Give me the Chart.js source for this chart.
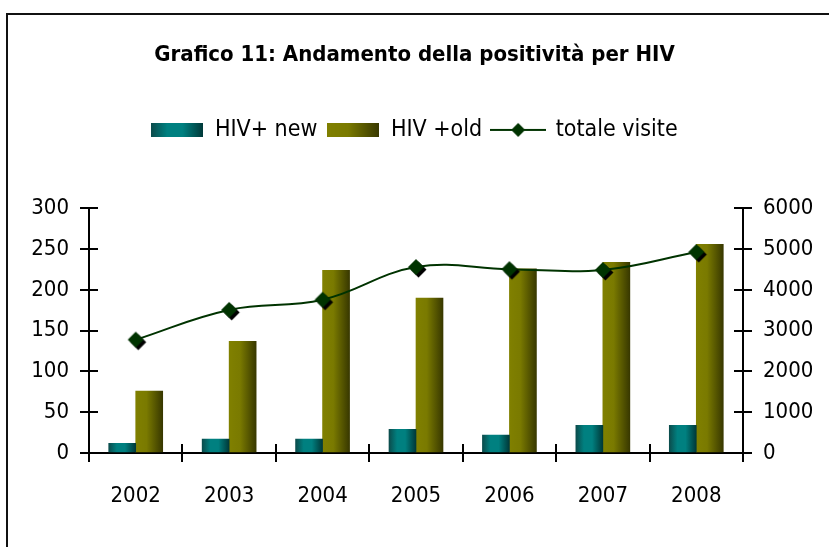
<!DOCTYPE html>
<html>
<head>
<meta charset="utf-8">
<script src="https://cdn.jsdelivr.net/npm/chart.js@4.4.1/dist/chart.umd.min.js"></script>
<style>
  html, body { margin: 0; padding: 0; background: #fff; overflow: hidden; }
  #frame { position: absolute; left: 6px; top: 13px; width: 1000px; height: 1000px; border: 2px solid #111; }
  #chart { position: absolute; left: 0; top: 0; }
</style>
</head>
<body>
<div id="frame"></div>
<canvas id="chart" width="829" height="547"></canvas>
<script>
// data
const years = ["2002", "2003", "2004", "2005", "2006", "2007", "2008"];
const hivNew = [12, 17, 17, 29, 22, 34, 34];
const hivOld = [76, 137, 224, 190, 226, 234, 256];
const totaleVisite = [2780, 3510, 3760, 4560, 4510, 4490, 4930];
const leftMax = 300, leftStep = 50;
const rightMax = 6000, rightStep = 1000;

const FONT = "'DejaVu Sans Condensed', 'Liberation Sans', sans-serif";
const BAR_W = 27;
const TICK = 9;
const GAP = 57; // empty band between legend and plot
const SWATCH_W = 52;

const tealStops = [[0, "#0b4c4c"], [0.3, "#008080"], [0.6, "#008080"], [1, "#003838"]];
const oliveStops = [[0, "#808000"], [0.4, "#7a7a00"], [1, "#383800"]];

function barFill(stops, slot) {
  return function (ctx) {
    const x = ctx.chart.scales.x;
    if (!x || ctx.type !== "data") return stops[1][1];
    const left = x.getPixelForValue(ctx.dataIndex) - BAR_W + slot * BAR_W;
    const g = ctx.chart.ctx.createLinearGradient(left, 0, left + BAR_W, 0);
    stops.forEach(function (s) { g.addColorStop(s[0], s[1]); });
    return g;
  };
}

function swatch(stops) {
  const c = document.createElement("canvas");
  c.width = SWATCH_W; c.height = 14;
  const cx = c.getContext("2d");
  const g = cx.createLinearGradient(0, 0, SWATCH_W, 0);
  stops.forEach(function (s) { g.addColorStop(s[0], s[1]); });
  cx.fillStyle = g;
  cx.fillRect(0, 0, SWATCH_W, 14);
  return c;
}

function diamond(cx, x, y, r, color) {
  cx.fillStyle = color;
  cx.beginPath();
  cx.moveTo(x, y - r); cx.lineTo(x + r, y); cx.lineTo(x, y + r); cx.lineTo(x - r, y);
  cx.closePath();
  cx.fill();
}

// marker with the little black shadow
const marker = document.createElement("canvas");
marker.width = 24; marker.height = 24;
(function () {
  const cx = marker.getContext("2d");
  diamond(cx, 14.5, 14.5, 8, "#000");
  diamond(cx, 12, 12, 8, "#003300");
})();

const lineIcon = document.createElement("canvas");
lineIcon.width = 56; lineIcon.height = 16;
(function () {
  const cx = lineIcon.getContext("2d");
  cx.strokeStyle = "#003300";
  cx.lineWidth = 2;
  cx.beginPath(); cx.moveTo(0, 8); cx.lineTo(56, 8); cx.stroke();
  diamond(cx, 28, 8, 7, "#003300");
})();

const legendIcons = [swatch(tealStops), swatch(oliveStops), lineIcon];

const spacer = {
  id: "spacer",
  beforeInit(chart) {
    Chart.layouts.addBox(chart, {
      position: "top", weight: 0, fullSize: true, options: {},
      width: 0, height: 0, top: 0, left: 0, bottom: 0, right: 0,
      isHorizontal() { return true; },
      update(maxWidth) { this.width = maxWidth; this.height = GAP; },
      draw() {}
    });
  }
};

const innerTicks = {
  id: "innerTicks",
  afterDatasetsDraw(chart) {
    const ctx = chart.ctx, a = chart.chartArea, s = chart.scales;
    ctx.save();
    ctx.strokeStyle = "#000";
    ctx.lineWidth = 2;
    ctx.beginPath();
    s.y.ticks.forEach(function (t, i) {
      const p = Math.round(s.y.getPixelForTick(i));
      ctx.moveTo(a.left, p); ctx.lineTo(a.left + TICK, p);
    });
    s.y1.ticks.forEach(function (t, i) {
      const p = Math.round(s.y1.getPixelForTick(i));
      ctx.moveTo(a.right, p); ctx.lineTo(a.right - TICK, p);
    });
    const step = s.x.getPixelForValue(1) - s.x.getPixelForValue(0);
    for (let i = 0; i <= years.length; i++) {
      const p = Math.round(s.x.getPixelForValue(0) + (i - 0.5) * step);
      ctx.moveTo(p, a.bottom); ctx.lineTo(p, a.bottom - TICK);
    }
    ctx.stroke();
    ctx.restore();
  }
};

Chart.defaults.font.family = FONT;
Chart.defaults.color = "#000";

new Chart(document.getElementById("chart"), {
  type: "bar",
  data: {
    labels: years,
    datasets: [
      {
        label: "HIV+ new",
        data: hivNew,
        backgroundColor: barFill(tealStops, 0),
        barThickness: BAR_W,
        yAxisID: "y"
      },
      {
        label: "HIV +old",
        data: hivOld,
        backgroundColor: barFill(oliveStops, 1),
        barThickness: BAR_W,
        yAxisID: "y"
      },
      {
        type: "line",
        label: "totale visite",
        data: totaleVisite,
        borderColor: "#003300",
        borderWidth: 2,
        tension: 0.4,
        pointStyle: marker,
        pointRadius: 8,
        order: -1,
        yAxisID: "y1"
      }
    ]
  },
  options: {
    responsive: false,
    animation: false,
    layout: { padding: 0 },
    plugins: {
      tooltip: { enabled: false },
      title: {
        display: true,
        text: "Grafico 11: Andamento della positività per HIV",
        font: { size: 22, weight: "bold" },
        color: "#000",
        padding: { top: 42, bottom: 40 }
      },
      legend: {
        display: true,
        labels: {
          usePointStyle: true,
          pointStyleWidth: SWATCH_W,
          boxHeight: 14,
          padding: 10,
          font: { size: 23 },
          color: "#000",
          generateLabels: function (chart) {
            return chart.data.datasets.map(function (ds, i) {
              return {
                text: ds.label,
                pointStyle: legendIcons[i],
                fillStyle: "#000",
                strokeStyle: "#000",
                lineWidth: 0,
                hidden: false,
                datasetIndex: i,
                fontColor: "#000"
              };
            });
          }
        }
      }
    },
    scales: {
      x: {
        grid: { display: true, drawOnChartArea: false, drawTicks: true, tickLength: TICK, color: "#000", lineWidth: 2, offset: true },
        border: { display: true, color: "#000", width: 2 },
        ticks: { font: { size: 22 }, padding: 21, maxRotation: 0 },
        afterFit: function (scale) { scale.height = 94; }
      },
      y: {
        position: "left",
        min: 0,
        max: leftMax,
        grid: { display: true, drawOnChartArea: false, drawTicks: true, tickLength: TICK, color: "#000", lineWidth: 2 },
        border: { display: true, color: "#000", width: 2 },
        ticks: { stepSize: leftStep, font: { size: 22 }, padding: 11 },
        afterFit: function (scale) { scale.width = 89; }
      },
      y1: {
        position: "right",
        min: 0,
        max: rightMax,
        grid: { display: true, drawOnChartArea: false, drawTicks: true, tickLength: TICK, color: "#000", lineWidth: 2 },
        border: { display: true, color: "#000", width: 2 },
        ticks: {
          stepSize: rightStep,
          font: { size: 22 },
          padding: 11,
          callback: function (v) { return String(v); }
        },
        afterFit: function (scale) { scale.width = 86; }
      }
    }
  },
  plugins: [spacer, innerTicks]
});
</script>
</body>
</html>
